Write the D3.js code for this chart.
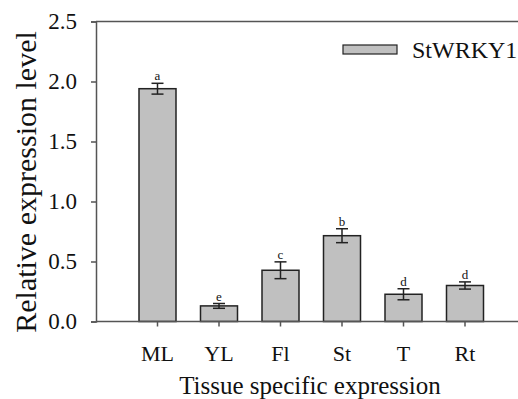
<!DOCTYPE html>
<html lang="en">
  <head>
    <meta charset="UTF-8" />
    <title>StWRKY1 tissue expression</title>
    <script src="https://d3js.org/d3.v7.min.js"></script>
    <style>
      body { margin: 0; background: white; }
      svg text { font-family: "Liberation Serif", "Times New Roman", serif; fill: #111; }
    </style>
  </head>
  <body>
    <script>
      const tissues = ["ML", "YL", "Fl", "St", "T", "Rt"];
      const expression = [1.94, 0.13, 0.427, 0.715, 0.227, 0.30];
      const errors = [0.045, 0.02, 0.07, 0.058, 0.046, 0.03];
      const letters = ["a", "e", "c", "b", "d", "d"];
      const yTicks = [0, 0.5, 1.0, 1.5, 2.0, 2.5];

      const width = 518;
      const height = 399;
      const serif = "Liberation Serif";
      const svg = d3.select("body").append("svg")
        .attr("width", width)
        .attr("height", height);

      // category i sits at position i+1 on a 0..7 axis
      const x = d3.scaleLinear().domain([0, 7]).range([96, 526.5]);
      const y = d3.scaleLinear().domain([0, 2.5]).range([321.5, 21.5]);
      const barW = 37;
      const axisColor = "#555";

      // top frame line
      svg.append("line")
        .attr("x1", x(0)).attr("x2", width)
        .attr("y1", y(2.5)).attr("y2", y(2.5))
        .attr("stroke", axisColor).attr("stroke-width", 1.5);

      // y axis
      const yAxis = svg.append("g")
        .attr("transform", "translate(" + x(0) + ",0)")
        .call(d3.axisLeft(y).tickValues(yTicks).tickFormat(d3.format(".1f")).tickSize(5).tickPadding(14));
      yAxis.attr("font-family", serif).attr("font-size", 23);
      yAxis.select(".domain").attr("stroke", axisColor).attr("stroke-width", 1.5);
      yAxis.selectAll(".tick line").attr("stroke", axisColor).attr("stroke-width", 1.5);
      yAxis.selectAll("text")
        .attr("font-family", serif)
        .style("font-family", serif)
        .style("font-size", "23px")
        .attr("fill", "#111");

      // bars
      svg.selectAll("rect.bar")
        .data(expression)
        .enter()
        .append("rect")
        .attr("class", "bar")
        .attr("x", (d, i) => x(i + 1) - barW / 2)
        .attr("y", d => y(d))
        .attr("width", barW)
        .attr("height", d => y(0) - y(d))
        .attr("fill", "#c0c0c0")
        .attr("stroke", "#222")
        .attr("stroke-width", 1.5);

      // error bars
      const eb = svg.selectAll("g.err")
        .data(expression)
        .enter()
        .append("g")
        .attr("class", "err")
        .attr("stroke", "#222")
        .attr("stroke-width", 1.5);
      eb.append("line")
        .attr("x1", (d, i) => x(i + 1)).attr("x2", (d, i) => x(i + 1))
        .attr("y1", (d, i) => y(d + errors[i])).attr("y2", (d, i) => y(d - errors[i]));
      eb.append("line")
        .attr("x1", (d, i) => x(i + 1) - 6).attr("x2", (d, i) => x(i + 1) + 6)
        .attr("y1", (d, i) => y(d + errors[i])).attr("y2", (d, i) => y(d + errors[i]));
      eb.append("line")
        .attr("x1", (d, i) => x(i + 1) - 6).attr("x2", (d, i) => x(i + 1) + 6)
        .attr("y1", (d, i) => y(d - errors[i])).attr("y2", (d, i) => y(d - errors[i]));

      // significance letters
      svg.selectAll("text.sig")
        .data(expression)
        .enter()
        .append("text")
        .attr("class", "sig")
        .attr("x", (d, i) => x(i + 1))
        .attr("y", (d, i) => y(d + errors[i]) - 3)
        .attr("text-anchor", "middle")
        .style("font-size", "13px")
        .text((d, i) => letters[i]);

      // x axis baseline and ticks
      svg.append("line")
        .attr("x1", x(0)).attr("x2", width)
        .attr("y1", y(0)).attr("y2", y(0))
        .attr("stroke", axisColor).attr("stroke-width", 1.5);
      svg.selectAll("line.xtick")
        .data(tissues)
        .enter()
        .append("line")
        .attr("class", "xtick")
        .attr("x1", (d, i) => x(i + 1)).attr("x2", (d, i) => x(i + 1))
        .attr("y1", y(0)).attr("y2", y(0) + 5)
        .attr("stroke", axisColor).attr("stroke-width", 1.5);
      svg.selectAll("text.xlab")
        .data(tissues)
        .enter()
        .append("text")
        .attr("class", "xlab")
        .attr("x", (d, i) => x(i + 1))
        .attr("y", 361)
        .attr("text-anchor", "middle")
        .style("font-size", "22px")
        .text(d => d);

      // axis titles
      svg.append("text")
        .attr("x", 310)
        .attr("y", 394)
        .attr("text-anchor", "middle")
        .style("font-size", "25px")
        .text("Tissue specific expression");
      svg.append("text")
        .attr("transform", "translate(36,182) rotate(-90)")
        .attr("text-anchor", "middle")
        .style("font-size", "30px")
        .text("Relative expression level");

      // legend
      svg.append("rect")
        .attr("x", 343).attr("y", 45)
        .attr("width", 54).attr("height", 9)
        .attr("fill", "#c0c0c0").attr("stroke", "#222").attr("stroke-width", 1.2);
      svg.append("text")
        .attr("x", 412).attr("y", 58)
        .style("font-size", "24px")
        .text("StWRKY1");
    </script>
  </body>
</html>
